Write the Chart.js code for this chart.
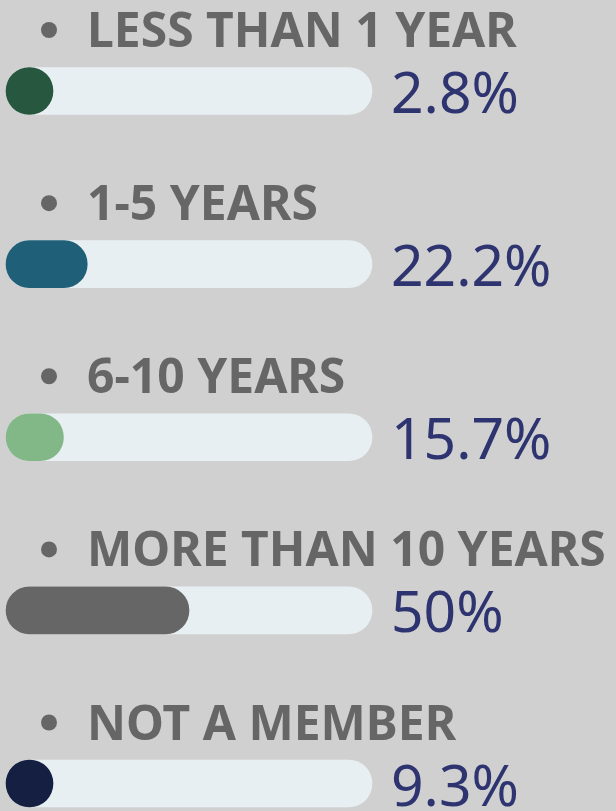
<!DOCTYPE html>
<html>
<head>
<meta charset="utf-8">
<script src="https://cdn.jsdelivr.net/npm/chart.js@4"></script>
<style>
  html, body { margin: 0; padding: 0; background: #d0d0d0; overflow: hidden; }
  canvas { display: block; }
</style>
</head>
<body>
<canvas id="bars" width="616" height="811"></canvas>
<script>
// Data
const categories = ['LESS THAN 1 YEAR', '1-5 YEARS', '6-10 YEARS', 'MORE THAN 10 YEARS', 'NOT A MEMBER'];
const percentages = [2.8, 22.2, 15.7, 50, 9.3];
const barColors = ['#27573f', '#1f6078', '#82b887', '#666666', '#141f42'];
const fullScale = categories.map(() => 100);

const BAR_H = 47;
const labelFont = 'bold 48px "Noto Sans"';
const valueFont = '57px "Noto Sans"';

// labels above each bar + percent text on the right
const rowText = {
  id: 'rowText',
  afterDatasetsDraw(chart) {
    const ctx = chart.ctx;
    const meta = chart.getDatasetMeta(0);
    const right = chart.scales.x.right;
    ctx.save();
    meta.data.forEach((bar, i) => {
      const y = bar.y;
      // bullet
      ctx.fillStyle = '#666666';
      ctx.beginPath();
      ctx.arc(49, y - 44 - 17, 8, 0, Math.PI * 2);
      ctx.fill();
      // category label
      ctx.font = labelFont;
      ctx.textBaseline = 'alphabetic';
      ctx.textAlign = 'left';
      ctx.fillText(categories[i], 87, y - 44, 524);
      // value
      ctx.font = valueFont;
      ctx.fillStyle = '#2e3470';
      ctx.fillText(percentages[i] + '%', right + 19, y + 22);
    });
    ctx.restore();
  }
};

new Chart(document.getElementById('bars'), {
  type: 'bar',
  data: {
    labels: categories,
    datasets: [
      {
        data: percentages,
        backgroundColor: barColors,
        minBarLength: BAR_H,
        barThickness: BAR_H,
        borderRadius: 24,
        borderSkipped: false,
        grouped: false,
        clip: false
      },
      {
        data: fullScale,
        backgroundColor: '#e8eff3',
        barThickness: BAR_H,
        borderRadius: 24,
        borderSkipped: false,
        grouped: false,
        clip: false
      }
    ]
  },
  options: {
    indexAxis: 'y',
    responsive: false,
    animation: false,
    layout: { padding: { left: 6, right: 244, top: 91, bottom: 27.5 } },
    scales: {
      x: { display: false, min: 0, max: 100 },
      y: { display: false, offset: false }
    },
    plugins: { legend: { display: false }, tooltip: { enabled: false } }
  },
  plugins: [rowText]
});
</script>
</body>
</html>
